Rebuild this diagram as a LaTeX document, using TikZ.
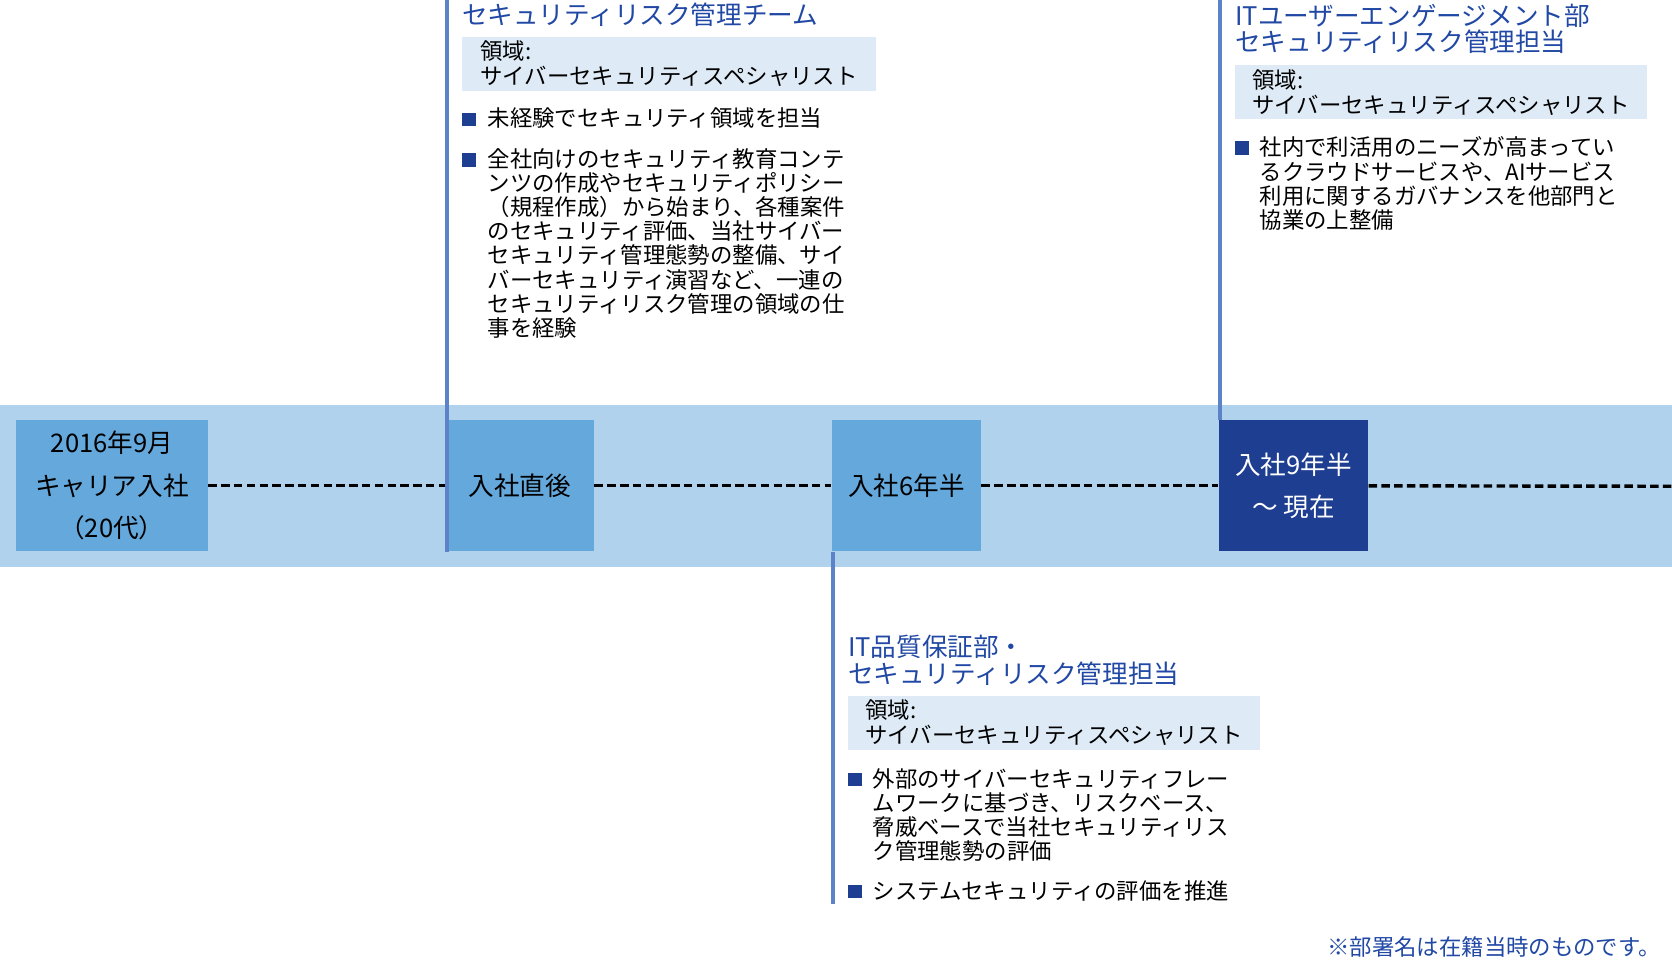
\documentclass[tikz,border=0pt]{standalone}
\usepackage{fontspec}
\setmainfont{Noto Sans CJK JP}
\definecolor{band}{RGB}{176,210,236}
\definecolor{boxblue}{RGB}{100,168,220}
\definecolor{navy}{RGB}{30,62,146}
\definecolor{titleblue}{RGB}{32,72,164}
\definecolor{domainbg}{RGB}{222,235,246}
\definecolor{vline}{RGB}{92,130,200}
\tikzset{
  stage/.style={fill=boxblue, inner sep=0pt, align=center, font=\fontsize{12}{20}\selectfont},
  posthead/.style={anchor=north west, inner sep=0pt, align=left, text=titleblue, font=\fontsize{12}{12.5}\selectfont},
  fieldbox/.style={anchor=north west, fill=domainbg, inner sep=2pt, align=left, font=\fontsize{10.5}{11.5}\selectfont},
  item/.style={anchor=north west, inner sep=0pt, align=left, font=\fontsize{10.5}{11.3}\selectfont},
  bullet/.style={fill=navy, minimum size=6.5pt, inner sep=0pt},
  link/.style={line width=1.6pt, dash pattern=on 4pt off 2pt},
  stem/.style={line width=2pt, vline}
}
\begin{document}
\begin{tikzpicture}[x=0.5pt,y=-0.5pt]
\useasboundingbox (0,0) rectangle (1568,900);

% band
\fill[band] (0,380) rectangle (1568,532);

% stages
\node[stage, minimum width=90pt, minimum height=61.5pt] (join) at (105,455.5) {2016年9月\\キャリア入社\\（20代）};
\node[stage, minimum width=69.5pt, minimum height=61.5pt] (first) at (487.5,455.5) {入社直後};
\node[stage, minimum width=70pt, minimum height=61.5pt] (mid) at (850,455.5) {入社6年半};
\node[stage, fill=navy, text=white, minimum width=70pt, minimum height=61.5pt] (now) at (1213,455.5) {入社9年半\\〜 現在};
\coordinate (end) at (1568,456);

\draw[link] (join) -- (first);
\draw[link] (first) -- (mid);
\draw[link] (mid) -- (now);
\draw[link] (now) -- (end);

% stems
\coordinate (s1) at (419.5,0);
\coordinate (s3) at (1144,0);
\coordinate (s2) at (781,848);
\draw[stem] (s1) -- (first.south west -| s1);
\draw[stem] (s3) -- (now.north west -| s3);
\draw[stem] (mid.south west -| s2) -- (s2);

% first post
\node[posthead] (t1) at (433,2) {セキュリティリスク管理チーム};
\node[fieldbox, minimum width=194pt] (d1) at (433,34) {領域:\\サイバーセキュリティスペシャリスト};
\node[bullet] (b1a) at (440,112) {};
\node[item] (i1a) at (457,101) {未経験でセキュリティ領域を担当};
\node[bullet] (b1b) at (440,150) {};
\node[item] (i1b) at (457,139) {全社向けのセキュリティ教育コンテ\\ンツの作成やセキュリティポリシー\\（規程作成）から始まり、各種案件\\のセキュリティ評価、当社サイバー\\セキュリティ管理態勢の整備、サイ\\バーセキュリティ演習など、一連の\\セキュリティリスク管理の領域の仕\\事を経験};

% middle post
\node[posthead] (t2) at (795,595) {IT品質保証部・\\セキュリティリスク管理担当};
\node[fieldbox, minimum width=193pt] (d2) at (795,652) {領域:\\サイバーセキュリティスペシャリスト};
\node[bullet] (b2a) at (802,731) {};
\node[item] (i2a) at (818,720) {外部のサイバーセキュリティフレー\\ムワークに基づき、リスクベース、\\脅威ベースで当社セキュリティリス\\ク管理態勢の評価};
\node[bullet] (b2b) at (802,836) {};
\node[item] (i2b) at (818,825) {システムセキュリティの評価を推進};

% current post
\node[posthead] (t3) at (1158,3) {ITユーザーエンゲージメント部\\セキュリティリスク管理担当};
\node[fieldbox, minimum width=193pt] (d3) at (1158,61) {領域:\\サイバーセキュリティスペシャリスト};
\node[bullet] (b3a) at (1165,139) {};
\node[item] (i3a) at (1181,128) {社内で利活用のニーズが高まってい\\るクラウドサービスや、AIサービス\\利用に関するガバナンスを他部門と\\協業の上整備};

% note
\node[anchor=south east, inner sep=0pt, text=titleblue, font=\fontsize{10.5}{12}\selectfont] (note) at (1558,898) {※部署名は在籍当時のものです。};
\end{tikzpicture}
\end{document}
